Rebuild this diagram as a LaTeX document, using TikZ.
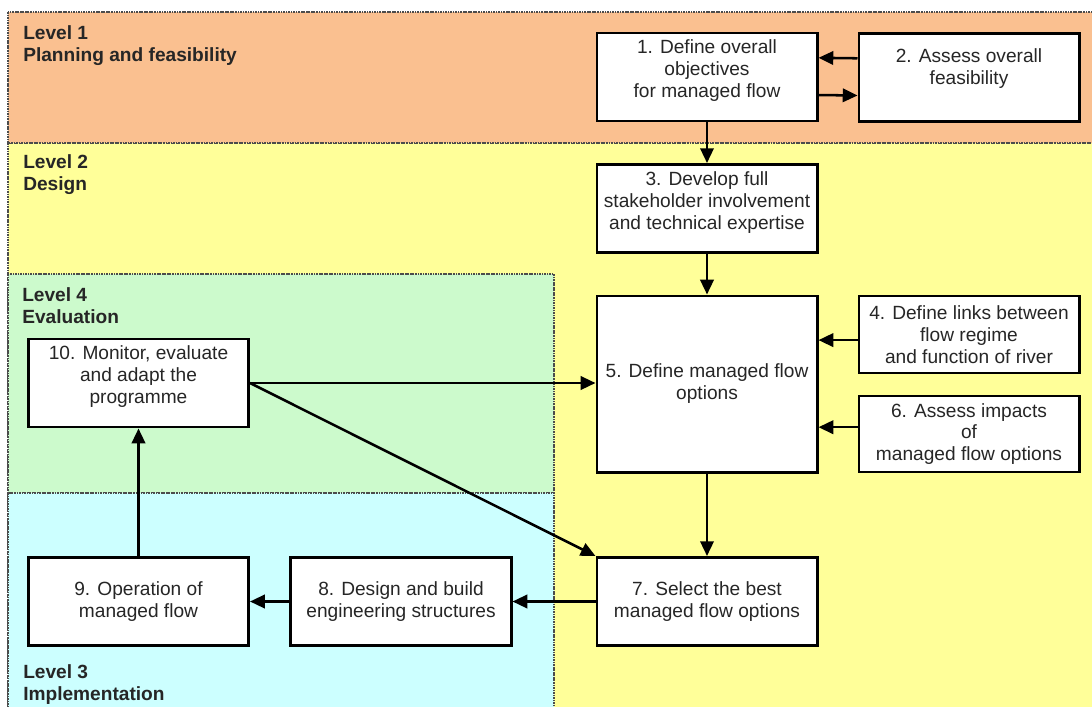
\documentclass[tikz,border=0pt]{standalone}
\usepackage{fontspec}
\setmainfont{Liberation Sans}
\usetikzlibrary{arrows.meta, positioning, calc}

\definecolor{planfill}{HTML}{FAC090}
\definecolor{designfill}{HTML}{FFFF99}
\definecolor{evalfill}{HTML}{CCFACC}
\definecolor{implfill}{HTML}{CCFFFF}

\tikzset{
  stagebox/.style={
    rectangle, draw=black, line width=2.1pt, fill=white,
    minimum width=5.5cm, minimum height=2.2cm, inner sep=2pt,
    align=center, text=black!85,
    font=\fontsize{13.6}{15.6}\selectfont
  },
  levelzone/.style={
    draw=black!70, line width=0.9pt, dash pattern=on 1.2pt off 0.6pt,
    fill=#1
  },
  leveltext/.style={
    anchor=north west, inner sep=0pt, align=left, text=black!85,
    font=\fontsize{13.6}{15.6}\selectfont\bfseries
  },
  flowarrow/.style={-{Triangle[length=10.5pt,width=9.5pt]}, line width=1.8pt},
}

\begin{document}
\begin{tikzpicture}[x=0.025cm, y=-0.025cm]
    \useasboundingbox (0,0) rectangle (1092,706);
    \clip (0,0) rectangle (1092,706);

    % the four levels
    \draw[levelzone=designfill] (8,143) rectangle (1100,714);
    \draw[levelzone=planfill]   (8,12)  rectangle (1100,143);
    \draw[levelzone=evalfill]   (8,274) rectangle (554,493);
    \draw[levelzone=implfill]   (8,493) rectangle (554,714);

    \node[leveltext] (lvl1) at (23,25)  {Level 1\\Planning and feasibility};
    \node[leveltext] (lvl2) at (23,154) {Level 2\\Design};
    \node[leveltext] (lvl4) at (22,287) {Level 4\\Evaluation};
    \node[leveltext] (lvl3) at (23,664) {Level 3\\Implementation};

    % steps (an empty last line lifts the text a little)
    \node[stagebox] (b1) at (707,77)    {1. Define overall\\objectives\\for managed flow\\[-4pt]~};
    \node[stagebox] (b2) at (969,77.5)  {2. Assess overall\\feasibility\\~};
    \node[stagebox] (b3) at (707,208.5) {3. Develop full\\stakeholder involvement\\and technical expertise\\[-4pt]~};
    \node[stagebox, minimum height=1.925cm] (b4) at (969,334.5) {4. Define links between\\flow regime\\and function of river};
    \node[stagebox, minimum height=4.4cm]   (b5) at (707,384)   {5. Define managed flow\\options};
    \node[stagebox, minimum height=1.9cm]   (b6) at (969,434)   {6. Assess impacts\\of\\managed flow options};
    \node[stagebox] (b7) at (707,601.5) {7. Select the best\\managed flow options};
    \node[stagebox] (b8) at (401,601.5) {8. Design and build\\engineering structures};
    \node[stagebox] (b9) at (138.5,601.5) {9. Operation of\\managed flow};
    \node[stagebox] (b10) at (138.5,383) {10. Monitor, evaluate\\and adapt the\\programme\\[-4pt]~};

    % links
    \draw[flowarrow] ([yshift=0.48cm]b2.west) -- ([yshift=0.48cm]b1.east);
    \draw[flowarrow] ([yshift=-0.45cm]b1.east) -- ([yshift=-0.45cm]b2.west);
    \draw[flowarrow] (b1.south) -- (b3.north);
    \draw[flowarrow] (b3.south) -- (b5.north);
    \draw[flowarrow] ([yshift=-0.14cm]b4.west) -- ([yshift=-0.14cm]b4.west -| b5.east);
    \draw[flowarrow] ([yshift=0.17cm]b6.west) -- ([yshift=0.17cm]b6.west -| b5.east);
    \draw[flowarrow] (b10.east) -- (b10.east -| b5.west);
    \draw[flowarrow] (b10.east) -- (b7.north west);
    \draw[flowarrow] (b5.south) -- (b7.north);
    \draw[flowarrow] (b7.west) -- (b8.east);
    \draw[flowarrow] (b8.west) -- (b9.east);
    \draw[flowarrow] (b9.north) -- (b10.south);
\end{tikzpicture}
\end{document}
